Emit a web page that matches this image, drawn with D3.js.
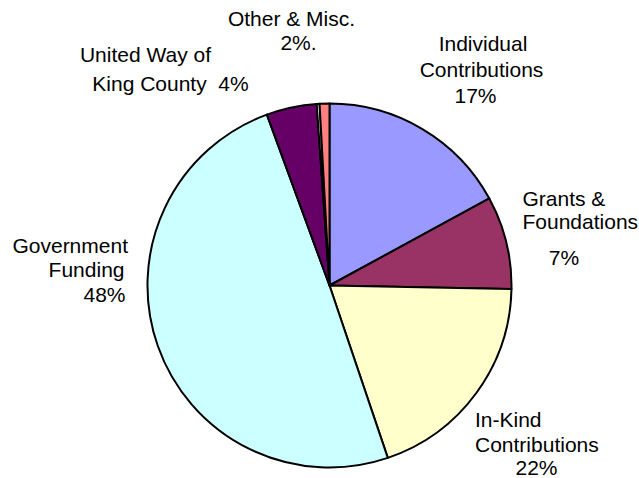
<!DOCTYPE html>
<html>
<head>
<meta charset="utf-8">
<script src="https://cdn.jsdelivr.net/npm/d3@7"></script>
<style>
  html, body { margin: 0; padding: 0; background: #fff; }
  svg text { font-family: "Liberation Sans", Arial, sans-serif; font-size: 21px; fill: #000; }
</style>
</head>
<body>
<div id="chart"></div>
<script>
// slices, clockwise from 12 o'clock
const categories = ["Individual Contributions", "Grants & Foundations", "In-Kind Contributions",
                    "Government Funding", "United Way of King County", "", "Other & Misc."];
const shares = [17.06, 8.25, 19.5, 49.6, 4.47, 0.25, 0.87];
const pctLabels = ["17%", "7%", "22%", "48%", "4%", "", "2%."];
const colors = ["#9999ff", "#993366", "#ffffcc", "#ccffff", "#660066", "#ffffff", "#ff8080"];

const width = 639, height = 478;
const cx = 329.5, cy = 285.5, radius = 182;

// hand placed label lines (Excel-style manual placement)
const labelLayout = [
    [{ t: "Individual", x: 483, y: 51, a: "middle" },
     { t: "Contributions", x: 481.5, y: 76.5, a: "middle" },
     { pct: true, x: 475.5, y: 102.5, a: "middle" }],
    [{ t: "Grants &", x: 522.5, y: 206, a: "start" },
     { t: "Foundations", x: 522.5, y: 228.5, a: "start" },
     { pct: true, x: 564, y: 265, a: "middle" }],
    [{ t: "In-Kind", x: 475, y: 426.5, a: "start" },
     { t: "Contributions", x: 475, y: 451.5, a: "start" },
     { pct: true, x: 536.5, y: 475, a: "middle" }],
    [{ t: "Government", x: 128, y: 252.5, a: "end" },
     { t: "Funding", x: 124.5, y: 276.5, a: "end" },
     { pct: true, x: 125.5, y: 301.5, a: "end" }],
    [{ t: "United Way of", x: 145.5, y: 61.5, a: "middle" },
     { t: "King County  4%", x: 170.5, y: 91, a: "middle" }],
    [],
    [{ t: "Other & Misc.", x: 291.5, y: 26, a: "middle" },
     { pct: true, x: 298.5, y: 50, a: "middle" }]
];

const svg = d3.select("#chart")
    .append("svg")
        .attr("width", width)
        .attr("height", height);

const pie = d3.pie().sort(null).value(d => d);
const arc = d3.arc().innerRadius(0).outerRadius(radius);
const color = d3.scaleOrdinal().domain(d3.range(shares.length)).range(colors);

svg.append("g")
    .attr("transform", `translate(${cx},${cy})`)
    .selectAll("path")
    .data(pie(shares))
        .enter()
            .append("path")
            .attr("d", arc)
            .attr("fill", (d, i) => color(i))
            .attr("stroke", "#000")
            .attr("stroke-width", 2)
            .attr("stroke-linejoin", "round");

const labels = svg.append("g");
labelLayout.forEach((lines, i) => {
    lines.forEach(l => {
        labels.append("text")
            .attr("x", l.x)
            .attr("y", l.y)
            .attr("text-anchor", l.a)
            .attr("xml:space", "preserve")
            .style("white-space", "pre")
            .text(l.pct ? pctLabels[i] : l.t);
    });
});
</script>
</body>
</html>
